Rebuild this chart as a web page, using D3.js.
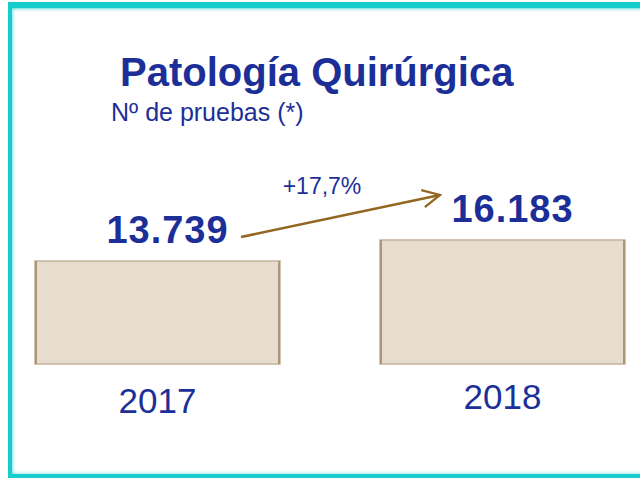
<!DOCTYPE html>
<html>
<head>
<meta charset="utf-8">
<script src="https://cdn.jsdelivr.net/npm/d3@7"></script>
<style>
  body { margin: 0; background: #fff; }
  svg { display: block; font-family: "Liberation Sans", Arial, sans-serif; }
</style>
</head>
<body>
<svg width="640" height="480"></svg>
<script>
// data
var years = ["2017", "2018"];
var pruebas = [13739, 16183];
var valueLabels = ["13.739", "16.183"];
var change = "+17,7%";

var blue = "#1c2f98";
var teal = "#16cccc";
var brown = "#936620";

var svg = d3.select("svg"),
    width = +svg.attr("width"),
    height = +svg.attr("height");

// frame
var frame = svg.append("g");
[0.9, 0.5, 0.25, 0.1].forEach(function(o, i) {
  frame.append("rect").attr("x", 12 + i).attr("y", 8 + i).attr("width", width).attr("height", 1)
    .attr("fill", teal).attr("opacity", o * 0.5);
  frame.append("rect").attr("x", 12 + i).attr("y", 8).attr("width", 1).attr("height", 466)
    .attr("fill", teal).attr("opacity", o * 0.4);
  frame.append("rect").attr("x", 12).attr("y", 473 - i).attr("width", width).attr("height", 1)
    .attr("fill", teal).attr("opacity", o * 0.3);
});
frame.append("rect").attr("x", 8).attr("y", 2).attr("width", width).attr("height", 6).attr("fill", teal);
frame.append("rect").attr("x", 8).attr("y", 2).attr("width", 4).attr("height", 476).attr("fill", teal);
frame.append("rect").attr("x", 8).attr("y", 474).attr("width", width).attr("height", 4).attr("fill", teal);

// title
svg.append("text").attr("x", 120).attr("y", 86)
  .attr("font-size", 40).attr("font-weight", "bold").attr("fill", blue)
  .text("Patología Quirúrgica");
svg.append("text").attr("x", 111).attr("y", 121)
  .attr("font-size", 25).attr("fill", blue)
  .text("Nº de pruebas (*)");

// scales
var x = d3.scaleBand().domain(years).range([35, 625]).paddingInner(100 / 345);
var y = d3.scaleLinear().domain([1760, 16183]).range([364, 240]);

var bars = svg.append("g").selectAll("g").data(years).enter().append("g");
bars.append("rect")
  .attr("x", function(d) { return x(d); })
  .attr("y", function(d, i) { return y(pruebas[i]); })
  .attr("width", x.bandwidth())
  .attr("height", function(d, i) { return y.range()[0] - y(pruebas[i]); })
  .attr("fill", "#e6ddcf")
  .attr("stroke", "#c4b39b")
  .attr("stroke-width", 1.5);
bars.append("rect")
  .attr("x", function(d) { return x(d); })
  .attr("y", function(d, i) { return y(pruebas[i]); })
  .attr("width", 2)
  .attr("height", function(d, i) { return y.range()[0] - y(pruebas[i]); })
  .attr("fill", "#ab967a");
bars.append("rect")
  .attr("x", function(d) { return x(d) + x.bandwidth() - 2; })
  .attr("y", function(d, i) { return y(pruebas[i]); })
  .attr("width", 2)
  .attr("height", function(d, i) { return y.range()[0] - y(pruebas[i]); })
  .attr("fill", "#ab967a");

// value labels
bars.append("text")
  .attr("x", function(d) { return x(d) + x.bandwidth() / 2 + 10; })
  .attr("y", function(d, i) { return y(pruebas[i]) - 18; })
  .attr("text-anchor", "middle")
  .attr("font-size", 38).attr("font-weight", "bold").attr("fill", blue)
  .attr("letter-spacing", 1)
  .text(function(d, i) { return valueLabels[i]; });

// year labels
bars.append("text")
  .attr("x", function(d) { return x(d) + x.bandwidth() / 2; })
  .attr("y", function(d, i) { return i == 0 ? 413 : 409; })
  .attr("text-anchor", "middle")
  .attr("font-size", 35).attr("fill", blue)
  .text(function(d) { return d; });

// arrow
svg.append("defs").append("marker")
  .attr("id", "head").attr("viewBox", "0 0 12 12").attr("refX", 11).attr("refY", 6)
  .attr("markerWidth", 8).attr("markerHeight", 8).attr("markerUnits", "strokeWidth")
  .attr("orient", "auto")
  .append("path").attr("d", "M1,1 L11,6 L1,11")
  .attr("fill", "none").attr("stroke", brown).attr("stroke-width", 1.3);
svg.append("line")
  .attr("x1", 241).attr("y1", 237).attr("x2", 440).attr("y2", 195)
  .attr("stroke", brown).attr("stroke-width", 2.6)
  .attr("marker-end", "url(#head)");
svg.append("text").attr("x", 322).attr("y", 194)
  .attr("text-anchor", "middle").attr("font-size", 23).attr("fill", blue)
  .text(change);
</script>
</body>
</html>
